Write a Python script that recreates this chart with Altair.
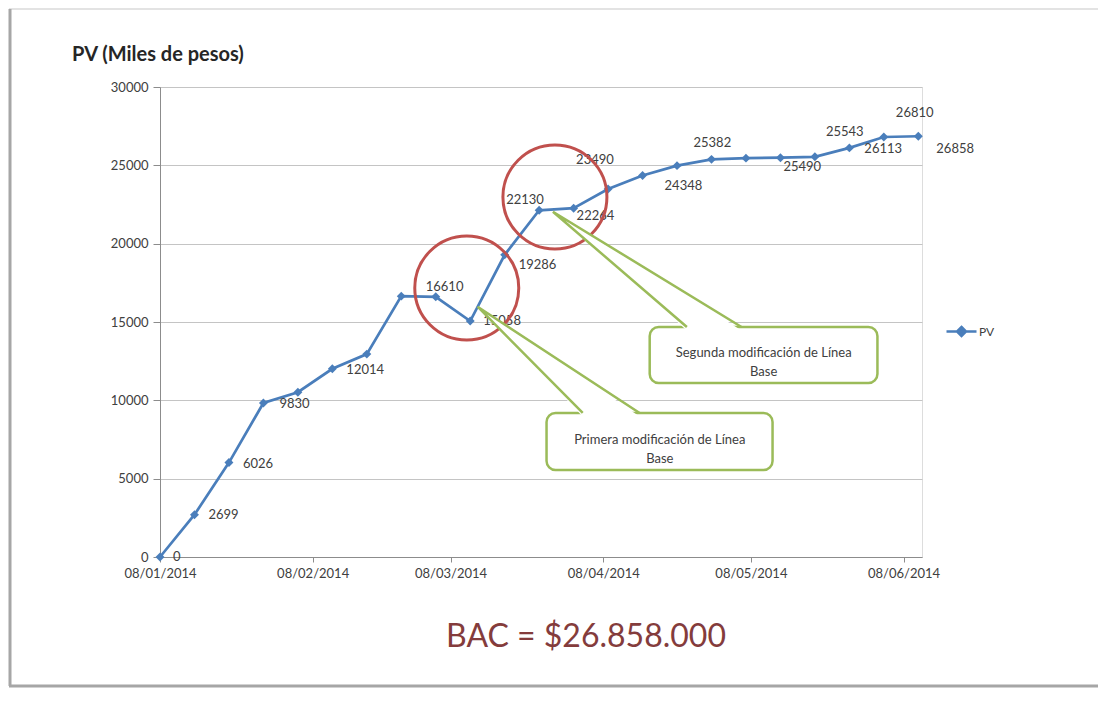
import altair as alt
import pandas as pd

# ---------------- data ----------------
start_date = "2014-01-08"
n_weeks = 23
pv_values = [0, 2699, 6026, 9830, 10520, 12014, 12950, 16650, 16610, 15058,
             19286, 22130, 22264, 23490, 24348, 24980, 25382, 25460, 25490,
             25543, 26113, 26810, 26858]
labeled_points = [0, 1, 2, 3, 5, 8, 9, 10, 11, 12, 13, 14, 16, 18, 19, 20, 21, 22]
y_ticks = [0, 5000, 10000, 15000, 20000, 25000, 30000]
x_tick_months = [1, 2, 3, 4, 5, 6]
series_name = "PV"
title_text = "PV (Miles de pesos)"
bac_text = "BAC = $26.858.000"
callout_texts = ["Primera modificación  de Línea\nBase",
                 "Segunda modificación de Línea\nBase"]

# annotation positions in data units (days after start, PV value)
circle_days = [62.3, 80.2]
circle_vals = [17170, 22979]
box_day_from = [78.5, 99.45]
box_day_to = [124.4, 145.7]
box_val_bottom = [5553, 11106]
box_val_top = [9192, 14681]
wedge_tip_day = [64.5, 79.8]
wedge_tip_val = [15977, 22040]
wedge_base_day1 = [85.85, 107.0]
wedge_base_day2 = [97.4, 118.1]
text_day = [101.5, 122.6]
text_val = [7500, 13021]

# ---------------- styles ----------------
BLUE = "#4a7ebb"
RED = "#c0504d"
GREEN = "#9bbb59"
TXT = "#404040"
FONT = "Lato"
# label offsets (dx, dy in px) for each labelled point
label_offsets = {0: (13, 0), 1: (14, 0), 2: (14, 1), 3: (16, 1), 5: (14, 1),
                 8: (-10, -10), 9: (13, 0), 10: (14, 10), 11: (-33, -10),
                 12: (3, 8), 13: (-32, -29), 14: (22, 10), 16: (-18, -16),
                 18: (3, 9), 19: (11, -25), 20: (15, 1), 21: (12, -24),
                 22: (18, 13)}

base = pd.Timestamp(start_date)


def d2s(days):
    return (base + pd.Timedelta(days=days)).strftime("%Y-%m-%dT%H:%M:%S")


dates = [d2s(7 * i) for i in range(n_weeks)]
df = pd.DataFrame({"fecha": dates, "pv": pv_values, "idx": list(range(n_weeks)),
                   "serie": [series_name] * n_weeks})
df["lbl"] = df["pv"].astype(str)

x_domain = [alt.DateTime(year=2014, month=1, date=8),
            alt.DateTime(year=2014, month=6, date=11, hours=18)]
x_scale = alt.Scale(domain=x_domain, nice=False)
y_scale = alt.Scale(domain=[0, 30000], nice=False)

x_axis = alt.Axis(values=[alt.DateTime(year=2014, month=m, date=8) for m in x_tick_months],
                  format="%d/%m/%Y", grid=False, title=None, tickSize=5,
                  labelPadding=5, labelFlush=False, labelFont=FONT,
                  labelFontSize=13, labelColor=TXT, domainColor="#8c8c8c",
                  tickColor="#8c8c8c")
y_axis = alt.Axis(values=y_ticks, format="d", grid=True, gridColor="#c4c4c4",
                  title=None, tickSize=7, labelPadding=5, labelFont=FONT,
                  labelFontSize=13, labelColor=TXT, domainColor="#8c8c8c",
                  tickColor="#8c8c8c")

X = alt.X("fecha:T", scale=x_scale, axis=x_axis)
Y = alt.Y("pv:Q", scale=y_scale, axis=y_axis)

legend_symbol = "M-1,0H1M0,-0.3L0.3,0L0,0.3L-0.3,0Z"

line = alt.Chart(df).mark_line(strokeWidth=2.7).encode(
    x=X, y=Y,
    color=alt.Color("serie:N", scale=alt.Scale(domain=[series_name], range=[BLUE]),
                    legend=alt.Legend(orient="none", legendX=785, legendY=228,
                                      title=None, symbolType=legend_symbol,
                                      symbolSize=900, symbolStrokeWidth=2.5,
                                      symbolFillColor=BLUE, symbolStrokeColor=BLUE,
                                      labelFont=FONT, labelFontSize=12,
                                      labelColor=TXT, labelOffset=1, padding=0)),
)
points = alt.Chart(df).mark_point(shape="diamond", filled=True, size=80,
                                  opacity=1, color=BLUE).encode(x=X, y=Y)

label_layers = []
for i in labeled_points:
    dx, dy = label_offsets[i]
    label_layers.append(
        alt.Chart(df).transform_filter(alt.datum.idx == i)
        .mark_text(align="left", baseline="middle", dx=dx, dy=dy, font=FONT,
                   fontSize=13, color=TXT)
        .encode(x=X, y=Y, text="lbl:N"))

# annotations
circ_df = pd.DataFrame({"fecha": [d2s(d) for d in circle_days], "pv": circle_vals})
circles = alt.Chart(circ_df).mark_point(shape="circle", size=104 * 104, filled=False,
                                        stroke=RED, strokeWidth=3, opacity=1).encode(x=X, y=Y)

box_df = pd.DataFrame({"fecha": [d2s(d) for d in box_day_from],
                       "fecha2": [d2s(d) for d in box_day_to],
                       "pv": box_val_bottom, "pv2": box_val_top})
boxes = alt.Chart(box_df).mark_rect(cornerRadius=9, fill="white", stroke=GREEN,
                                    strokeWidth=2.5).encode(
    x=X, x2="fecha2:T", y=Y, y2="pv2:Q")

# wedge polygons (filled white, no stroke), reaching slightly into the box
wf_rows = []
for k in range(2):
    wf_rows.append({"w": k, "o": 0, "fecha": d2s(wedge_base_day1[k]), "pv": box_val_top[k] - 220})
    wf_rows.append({"w": k, "o": 1, "fecha": d2s(wedge_tip_day[k]), "pv": wedge_tip_val[k]})
    wf_rows.append({"w": k, "o": 2, "fecha": d2s(wedge_base_day2[k]), "pv": box_val_top[k] - 220})
wf_df = pd.DataFrame(wf_rows)
wedge_fill = alt.Chart(wf_df).mark_line(fill="white", stroke="white", strokeWidth=0.5,
                                        strokeOpacity=0).encode(
    x=X, y=Y, order="o:O", detail="w:N")

we_rows = []
for k in range(2):
    we_rows.append({"w": k, "o": 0, "fecha": d2s(wedge_base_day1[k]), "pv": box_val_top[k]})
    we_rows.append({"w": k, "o": 1, "fecha": d2s(wedge_tip_day[k]), "pv": wedge_tip_val[k]})
    we_rows.append({"w": k, "o": 2, "fecha": d2s(wedge_base_day2[k]), "pv": box_val_top[k]})
we_df = pd.DataFrame(we_rows)
wedge_edges = alt.Chart(we_df).mark_line(color=GREEN, strokeWidth=2.5).encode(
    x=X, y=Y, order="o:O", detail="w:N")

txt_df = pd.DataFrame({"fecha": [d2s(d) for d in text_day], "pv": text_val,
                       "t": callout_texts})
box_text = alt.Chart(txt_df).mark_text(align="center", baseline="middle", font=FONT,
                                       fontSize=13, color=TXT, lineBreak="\n",
                                       lineHeight=19).encode(x=X, y=Y, text="t:N")

# frame, title, BAC
one = pd.DataFrame({"t": [title_text], "b": [bac_text]})
frame_left = alt.Chart(one).mark_rule(color="#a6a6a6", strokeWidth=3).encode(
    x=alt.value(-150), y=alt.value(-78), y2=alt.value(599))
frame_bottom = alt.Chart(one).mark_rule(color="#a6a6a6", strokeWidth=3).encode(
    x=alt.value(-151), x2=alt.value(938), y=alt.value(599))
frame_top = alt.Chart(one).mark_rule(color="#e3e3e3", strokeWidth=2).encode(
    x=alt.value(-151), x2=alt.value(938), y=alt.value(-78))
title = alt.Chart(one).mark_text(align="left", baseline="middle", font=FONT,
                                 fontSize=20, fontWeight="bold", color="#262626").encode(
    x=alt.value(-88), y=alt.value(-32), text="t:N")
bac = alt.Chart(one).mark_text(align="center", baseline="middle", font=FONT,
                               fontSize=32, color="#843c3c").encode(
    x=alt.value(426), y=alt.value(550), text="b:N")

chart = alt.layer(
    frame_top, frame_left, frame_bottom,
    line, points, *label_layers,
    circles, boxes, wedge_fill, wedge_edges, box_text,
    title, bac,
).properties(
    width=762, height=470,
    padding={"left": 152, "top": 79, "right": 176, "bottom": 131},
    autosize=alt.AutoSizeParams(type="none"),
).configure_view(stroke="transparent").configure(background="white")

chart.save("out.html", embed_options={"renderer": "svg", "actions": False})
